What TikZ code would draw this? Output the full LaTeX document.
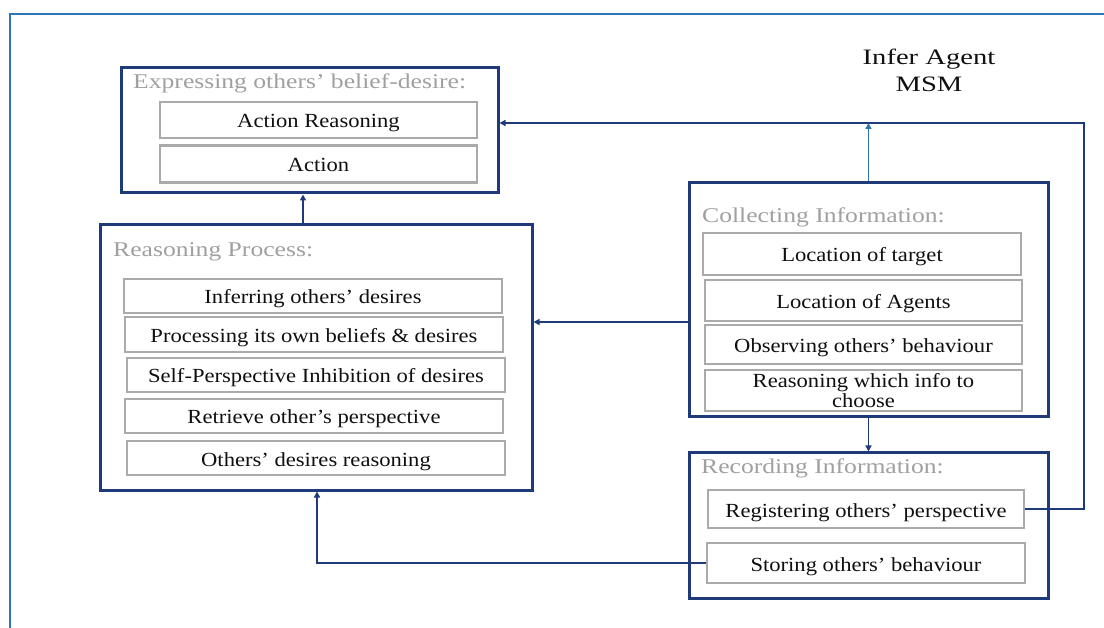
\documentclass[tikz,border=0pt]{standalone}
\usepackage{fontspec}
\setmainfont{Liberation Serif}
\newfontfamily\itemfam{Liberation Serif}[FakeStretch=1.13]
\newfontfamily\headfam{Liberation Serif}[FakeStretch=1.22]
\newfontfamily\msmfam{Liberation Serif}[FakeStretch=1.3]
\usetikzlibrary{arrows.meta}
\definecolor{navy}{HTML}{1F3A78}
\definecolor{framecol}{HTML}{2E75B6}
\definecolor{headgray}{HTML}{A0A0A0}
\definecolor{itemgray}{HTML}{AAAAAA}
\definecolor{inktext}{HTML}{101010}
\tikzset{
  group/.style={draw=navy, line width=3pt, fill=white, inner sep=0pt},
  item/.style={draw=itemgray, line width=2.4pt, fill=white, align=center, inner sep=0pt,
    text=inktext, text height=16pt, text depth=0pt,
    font=\itemfam\fontsize{20}{20}\selectfont},
  twoline/.style={text height=, text depth=},
  heading/.style={anchor=base west, inner sep=0pt, text=headgray,
    font=\headfam\fontsize{21}{24}\selectfont},
  link/.style={draw=navy, line width=1.4pt, -{Triangle[length=6pt,width=6pt]}},
  lightlink/.style={link, draw=framecol},
}
\begin{document}
\begin{tikzpicture}[x=1pt,y=-1pt]
\useasboundingbox (0,0) rectangle (1104,628);
% page frame
\draw[framecol, line width=2.5pt] (10,640) -- (10,14) -- (1110,14);

% group boxes
\node[group, minimum width=377pt, minimum height=125pt] (expr) at (309.5,130.5) {};
\node[group, minimum width=432pt, minimum height=265pt] (rea) at (316,357.5) {};
\node[group, minimum width=359pt, minimum height=234pt] (col) at (868.5,300) {};
\node[group, minimum width=359pt, minimum height=145pt] (rec) at (868.5,525.5) {};

% headings
\node[heading] (exprh) at (133,89) {Expressing others’ belief-desire:};
\node[heading] (reah) at (113,257) {Reasoning Process:};
\node[heading] (colh) at (702,223) {Collecting Information:};
\node[heading] (rech) at (701,473) {Recording Information:};

% expressing items
\node[item, minimum width=317pt, minimum height=36pt] (ar) at (318.5,120) {Action Reasoning};
\node[item, minimum width=317pt, minimum height=37pt] (act) at (318.5,164) {Action};

% reasoning items
\node[item, minimum width=378pt, minimum height=34pt] (inf) at (313,296) {Inferring others’ desires};
\node[item, minimum width=378pt, minimum height=35pt] (proc) at (314,334.5) {Processing its own beliefs \& desires};
\node[item, minimum width=378pt, minimum height=34pt] (self) at (316,375) {Self-Perspective Inhibition of desires};
\node[item, minimum width=378pt, minimum height=34pt] (retr) at (314,416) {Retrieve other’s perspective};
\node[item, minimum width=378pt, minimum height=34pt] (oth) at (316,458) {Others’ desires reasoning};

% collecting items
\node[item, minimum width=318pt, minimum height=42pt] (loct) at (862,254) {Location of target};
\node[item, minimum width=317pt, minimum height=41pt] (loca) at (863.5,300.5) {Location of Agents};
\node[item, minimum width=317pt, minimum height=39pt] (obs) at (863.5,344.5) {Observing others’ behaviour};
\node[item, twoline, minimum width=317pt, minimum height=41pt] (rwi) at (863.5,390.5)
  {\raisebox{0pt}[14pt][0pt]{Reasoning which info to}\\choose};

% recording items
\node[item, minimum width=316pt, minimum height=38pt] (reg) at (866,509) {Registering others’ perspective};
\node[item, minimum width=318pt, minimum height=40pt] (sto) at (866,563) {Storing others’ behaviour};

% title
\node[align=center, inner sep=0pt, text=inktext, font=\msmfam\fontsize{22}{27}\selectfont]
  (msm) at (929,70) {Infer Agent\\MSM};

% connectors
\coordinate (rtop) at (1084,123);
\coordinate (rup) at ([xshift=-13pt]rea.north);
\draw[link] (rup) -- (rup |- expr.south);
\draw[link] (reg.east) -| (rtop) -- (expr.east |- rtop);
\draw[lightlink] (col.north) -- (col.north |- rtop);
\draw[link] ([yshift=-22pt]col.west) -- ([yshift=-22pt]col.west -| rea.east);
\draw[link] (col.south) -- (rec.north);
\draw[link] (sto.west) -| ([xshift=1pt]rea.south);
\end{tikzpicture}
\end{document}
